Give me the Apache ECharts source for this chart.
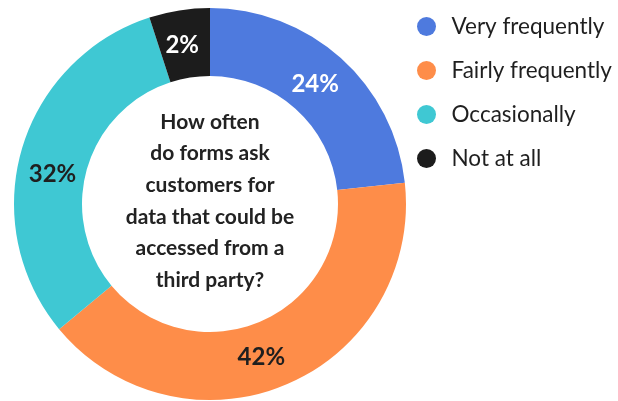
<!DOCTYPE html>
<html>
<head>
<meta charset="utf-8">
<script src="https://cdn.jsdelivr.net/npm/echarts@6/dist/echarts.min.js"></script>
<style>
  html, body { margin: 0; padding: 0; background: #ffffff; }
  #chart { width: 618px; height: 401px; }
</style>
</head>
<body>
<div id="chart"></div>
<script>
// Survey answers, clockwise from the top
var categories = ['Very frequently', 'Fairly frequently', 'Occasionally', 'Not at all'];
var shares = [24, 42, 32, 2];
var colors = ['#4e7ade', '#fe8d49', '#3fc8d3', '#1c1c1c'];
var labelColors = ['#ffffff', '#1f1f1f', '#1f1f1f', '#ffffff'];
var centerQuestion = ['How often', 'do forms ask', 'customers for', 'data that could be', 'accessed from a', 'third party?'];

var FONT = 'Lato, "Noto Sans", sans-serif';

// Nudges for the percentage labels inside the ring
var labelNudges = {
  'Very frequently': [-5, 3],
  'Fairly frequently': [-13, 1],
  'Occasionally': [1, 16],
  'Not at all': [-2, 4]
};

var pieData = categories.map(function (name, i) {
  return {
    name: name,
    value: shares[i],
    itemStyle: { color: colors[i] },
    label: { color: labelColors[i], offset: labelNudges[name] }
  };
});

var chart = echarts.init(document.getElementById('chart'), null, { renderer: 'canvas' });

chart.setOption({
  backgroundColor: '#ffffff',
  animation: false,
  legend: {
    orient: 'vertical',
    left: 412,
    top: 10,
    icon: 'circle',
    itemWidth: 40,
    itemHeight: 19,
    itemGap: 21,
    data: categories,
    textStyle: { fontFamily: FONT, fontSize: 22.5, lineHeight: 20, color: '#1f1f1f' }
  },
  graphic: [{
    type: 'text',
    x: 210,
    y: 201,
    style: {
      text: centerQuestion.join('\n'),
      fontFamily: FONT,
      fontSize: 21,
      fontWeight: 'bold',
      lineHeight: 31.7,
      fill: '#222222',
      align: 'center',
      verticalAlign: 'middle'
    }
  }],
  series: [{
    type: 'pie',
    center: [210, 204],
    radius: [128, 196],
    startAngle: 90,
    clockwise: true,
    minAngle: 18,
    avoidLabelOverlap: false,
    silent: true,
    label: {
      show: true,
      position: 'inside',
      formatter: '{c}%',
      fontFamily: FONT,
      fontSize: 24,
      fontWeight: 'bold'
    },
    labelLine: { show: false },
    data: pieData
  }]
});
</script>
</body>
</html>
